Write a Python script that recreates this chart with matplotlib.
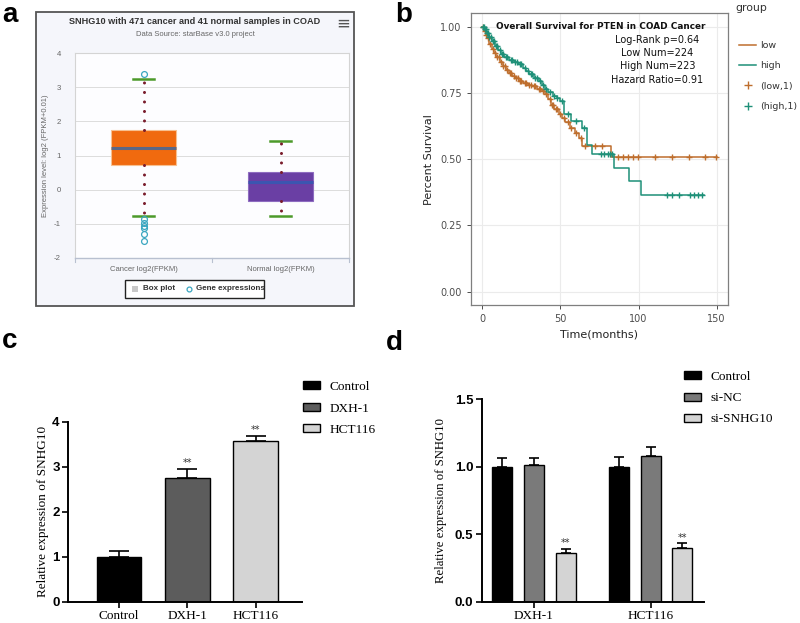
import numpy as np
import matplotlib
matplotlib.use("Agg")
import matplotlib.pyplot as plt
from matplotlib.patches import Rectangle
from matplotlib.lines import Line2D

W, H = 800, 623

# ---------------- Panel a data (box plot) ----------------
box_labels = ["Cancer log2(FPKM)", "Normal log2(FPKM)"]
box_q1 = [0.73, -0.32]
box_med = [1.22, 0.23]
box_q3 = [1.74, 0.53]
box_whislo = [-0.77, -0.78]
box_whishi = [3.23, 1.43]
cancer_fliers = [3.38, -0.86, -0.97, -1.05, -1.12, -1.30, -1.51]
normal_fliers = []
box_yticks = [-2, -1, 0, 1, 2, 3, 4]

# ---------------- Panel b data (Kaplan-Meier) ----------------
low_t = [0, 1, 2, 3, 4.5, 6, 7.5, 9, 11, 13, 15, 17, 19, 21, 23.5, 26, 29, 32, 35, 38,
         40, 42, 44, 46, 49, 51, 53, 56, 59, 62, 64, 82.5, 150]
low_s = [1.0, 0.985, 0.97, 0.955, 0.935, 0.915, 0.90, 0.885, 0.868, 0.852, 0.838, 0.826,
         0.815, 0.805, 0.795, 0.788, 0.780, 0.774, 0.766, 0.757, 0.745, 0.725, 0.705, 0.69,
         0.672, 0.655, 0.64, 0.618, 0.60, 0.578, 0.548, 0.507, 0.507]
high_t = [0, 1, 2.5, 4, 6, 8, 10, 12, 14, 17, 20, 23, 26, 28, 30, 33, 36, 38, 40, 42,
          45, 47.5, 50, 52, 57, 63.5, 67, 70.5, 84.6, 93.8, 101.3, 142]
high_s = [1.0, 0.99, 0.975, 0.96, 0.945, 0.928, 0.912, 0.898, 0.886, 0.875, 0.866, 0.857,
          0.845, 0.832, 0.82, 0.807, 0.795, 0.78, 0.765, 0.752, 0.74, 0.73, 0.72, 0.67,
          0.645, 0.617, 0.553, 0.521, 0.468, 0.417, 0.364, 0.364]
low_cens = [0.5, 1.5, 2.5, 3.5, 5, 6.5, 8, 9.5, 10.5, 12, 13.5, 14.5, 16, 17.5, 18.5, 20,
            21.5, 22.5, 24, 25, 27, 28, 30, 31, 33, 34, 36, 37, 39, 41, 43, 44.5, 45.5, 47,
            48, 50, 52, 55, 57, 60, 63, 66, 72, 76.7, 86.7, 89.9, 93.1, 96.3, 99.6, 110.3,
            121.6, 132.3, 142.3, 149.8]
high_cens = [0.3, 0.8, 1.5, 2, 3, 3.5, 4.5, 5.5, 6.5, 7.5, 8.5, 9.5, 11, 12.5, 13.5, 15,
             16, 18, 19, 21, 22, 24, 25, 27, 29, 31, 32, 34, 35, 37, 39, 41, 43, 46, 48, 51,
             55, 60, 65, 76, 78.2, 80.3, 81.9, 83.1, 118.4, 121.6, 125.8, 133.1, 135.5, 138,
             140.8]
km_xticks = [0, 50, 100, 150]
km_yticks = [0.0, 0.25, 0.50, 0.75, 1.00]
km_annot = ["Log-Rank p=0.64", "Low Num=224", "High Num=223", "Hazard Ratio=0.91"]

# ---------------- Panel c data ----------------
c_groups = ["Control", "DXH-1", "HCT116"]
c_vals = [1.0, 2.75, 3.57]
c_err = [0.12, 0.20, 0.12]
c_sig = ["", "**", "**"]

# ---------------- Panel d data ----------------
d_groups = ["DXH-1", "HCT116"]
d_series = ["Control", "si-NC", "si-SNHG10"]
d_control = [1.0, 1.0]
d_sinc = [1.01, 1.08]
d_sisnhg = [0.36, 0.40]
d_control_err = [0.062, 0.07]
d_sinc_err = [0.055, 0.065]
d_sisnhg_err = [0.03, 0.032]
d_sig = ["**", "**"]

fig = plt.figure(figsize=(W / 100, H / 100), dpi=100)


def rect(x0, y0, x1, y1):
    return [x0 / W, 1 - y1 / H, (x1 - x0) / W, (y1 - y0) / H]


def fx(x):
    return x / W


def fy(y):
    return 1 - y / H


SANS = "Liberation Sans"
SERIF = "Liberation Serif"

# ======================= Panel a =======================
frame = Rectangle((fx(36), fy(306)), (354 - 36) / W, (306 - 12) / H,
                  transform=fig.transFigure, facecolor="#f5f6fb",
                  edgecolor="#555555", lw=1.3, zorder=-5)
fig.patches.append(frame)

axA = fig.add_axes(rect(75, 53, 349, 258))
axA.set_zorder(3)
axA.set_facecolor("#fdfdff")
stats = []
fl = [cancer_fliers, normal_fliers]
for i in range(2):
    stats.append(dict(label=box_labels[i], q1=box_q1[i], med=box_med[i], q3=box_q3[i],
                      whislo=box_whislo[i], whishi=box_whishi[i], fliers=fl[i]))
bp = axA.bxp(stats, positions=[0.5, 1.5], widths=0.48, capwidths=0.15,
             patch_artist=True, showfliers=True,
             whiskerprops=dict(color="#7a1c2c", linestyle=(0, (0.01, 3.1)), lw=2.2,
                               dash_capstyle="round"),
             capprops=dict(color="#4c9a2a", lw=1.8),
             flierprops=dict(marker="o", mfc="none", mec="#3aa6c0", ms=4.2, mew=0.9),
             medianprops=dict(lw=2.2))
box_faces = ["#f06a0f", "#6a3fa4"]
box_edges = ["#f7c090", "#8e6cc0"]
med_cols = ["#5b6785", "#3c55b0"]
for i, b in enumerate(bp["boxes"]):
    b.set_facecolor(box_faces[i])
    b.set_edgecolor(box_edges[i])
    b.set_linewidth(0.8)
for i, m in enumerate(bp["medians"]):
    m.set_color(med_cols[i])
for w in bp["whiskers"]:
    w.set_zorder(3)
axA.set_xlim(0, 2)
axA.set_ylim(-2, 4)
axA.set_yticks(box_yticks)
axA.set_yticklabels([str(v) for v in box_yticks], fontsize=5.6, color="#666666", family=SANS)
axA.set_xticks([0.5, 1.5])
axA.set_xticklabels(box_labels, fontsize=5.5, color="#666666", family=SANS)
axA.tick_params(axis="y", length=0, pad=10)
axA.tick_params(axis="x", length=0, pad=6)
axA.grid(axis="y", color="#dcdcdc", lw=0.7)
axA.set_axisbelow(True)
for s in ["top", "right", "left"]:
    axA.spines[s].set_color("#d4d4d4")
    axA.spines[s].set_linewidth(0.8)
axA.spines["bottom"].set_color("#b8c0d0")
axA.spines["bottom"].set_linewidth(1)
axA.set_ylabel("Expression level: log2 (FPKM+0.01)", fontsize=5.5, color="#666666",
               family=SANS, labelpad=4)
for xv in [0, 1, 2]:
    axA.plot([xv, xv], [-2, -2.12], color="#b8c0d0", lw=0.8, clip_on=False)

fig.text(fx(195), fy(21), "SNHG10 with 471 cancer and 41 normal samples in COAD",
         ha="center", va="center", fontsize=6.6, fontweight="bold", color="#333333", family=SANS)
fig.text(fx(195), fy(35), "Data Source: starBase v3.0 project", ha="center", va="center",
         fontsize=5.5, color="#666666", family=SANS)
fig.text(fx(343), fy(24), "\u2261", ha="center", va="center", fontsize=12, color="#555555",
         family="DejaVu Sans")

leg_box = Rectangle((fx(125), fy(298)), (264 - 125) / W, (298 - 280) / H,
                    transform=fig.transFigure, facecolor="white", edgecolor="#222222", lw=1,
                    zorder=4)
fig.patches.append(leg_box)
fig.patches.append(Rectangle((fx(132), fy(292)), 6 / W, 6 / H, transform=fig.transFigure,
                             facecolor="#c8c8c8", edgecolor="none", zorder=5))
fig.text(fx(143), fy(289), "Box plot", ha="left", va="center", fontsize=5.8,
         fontweight="bold", color="#333333", family=SANS, zorder=5)
fig.add_artist(Line2D([fx(189)], [fy(289)], marker="o", mfc="none", mec="#3aa6c0", ms=3.5,
                      mew=0.9, transform=fig.transFigure, zorder=5))
fig.text(fx(196), fy(289), "Gene expressions", ha="left", va="center", fontsize=5.8,
         fontweight="bold", color="#333333", family=SANS, zorder=5)

fig.text(fx(2), fy(15), "a", ha="left", va="center", fontsize=20, fontweight="bold",
         family=SANS)

# ======================= Panel b =======================
low_col = "#BE6E2D"
high_col = "#1E9078"
axB = fig.add_axes(rect(470.7, 13.3, 728.3, 305))
axB.set_xlim(-7.5, 157.5)
axB.set_ylim(-0.05, 1.05)
axB.step(low_t, low_s, where="post", color=low_col, lw=1.1)
axB.step(high_t, high_s, where="post", color=high_col, lw=1.1)
lt = np.array(low_t)
ls = np.array(low_s)
ht = np.array(high_t)
hs = np.array(high_s)
lc = np.array(low_cens)
hc = np.array(high_cens)
axB.plot(lc, ls[np.searchsorted(lt, lc, side="right") - 1], "+", color=low_col, ms=5, mew=1)
axB.plot(hc, hs[np.searchsorted(ht, hc, side="right") - 1], "+", color=high_col, ms=5, mew=1)
axB.set_xticks(km_xticks)
axB.set_yticks(km_yticks)
axB.set_yticklabels(["0.00", "0.25", "0.50", "0.75", "1.00"])
axB.tick_params(labelsize=7, colors="#4d4d4d", length=3, width=0.7, color="#4d4d4d")
axB.grid(True, color="#ebebeb", lw=0.8)
axB.set_axisbelow(True)
for s in axB.spines.values():
    s.set_color("#7f7f7f")
    s.set_linewidth(0.9)
axB.set_xlabel("Time(months)", fontsize=8, color="#222222", labelpad=4)
axB.set_ylabel("Percent Survival", fontsize=8, color="#222222", labelpad=4)
axB.text(0.913, 0.955, "Overall Survival for PTEN in COAD Cancer", transform=axB.transAxes,
         ha="right", va="center", fontsize=6.4, fontweight="bold", color="#111111")
for k, txt in enumerate(km_annot):
    axB.text(0.725, 0.908 - k * 0.045, txt, transform=axB.transAxes, ha="center",
             va="center", fontsize=7, color="#111111")
hb = [Line2D([], [], color=low_col, lw=1.1), Line2D([], [], color=high_col, lw=1.1),
      Line2D([], [], color=low_col, marker="+", ls="none", ms=6, mew=1),
      Line2D([], [], color=high_col, marker="+", ls="none", ms=6, mew=1)]
fig.text(fx(735), fy(8), "group", ha="left", va="center", fontsize=7.8, color="#333333")
legB = fig.legend(hb, ["low", "high", "(low,1)", "(high,1)"],
                  loc="upper left", bbox_to_anchor=(fx(739), fy(41)), frameon=False,
                  fontsize=6.8, handlelength=1.8, labelspacing=1.2,
                  handletextpad=0.4, borderpad=0, borderaxespad=0)
for t in legB.get_texts():
    t.set_color("#333333")
fig.text(fx(395), fy(15), "b", ha="left", va="center", fontsize=20, fontweight="bold",
         family=SANS)

# ======================= Panel c =======================
axC = fig.add_axes(rect(68, 421.7, 301.7, 601.7))
xc = np.arange(len(c_groups))
colors_c = ["#000000", "#5c5c5c", "#d4d4d4"]
bars_c = axC.bar(xc, c_vals, width=0.65, color=colors_c, edgecolor="black", lw=1, zorder=2)
axC.errorbar(xc, c_vals, yerr=[np.zeros(len(c_vals)), c_err], fmt="none", ecolor="black",
             elinewidth=1.2, capsize=7, capthick=1.2, zorder=1)
for i in range(len(c_groups)):
    if c_sig[i]:
        axC.text(xc[i], c_vals[i] + c_err[i] + 0.02, c_sig[i], ha="center", va="bottom",
                 fontsize=7, color="#333333")
axC.set_xlim(-0.75, 2.676)
axC.set_ylim(0, 4)
axC.set_yticks([0, 1, 2, 3, 4])
axC.set_yticklabels(["0", "1", "2", "3", "4"], fontweight="bold", family=SANS, fontsize=9.5)
axC.set_xticks(xc)
axC.set_xticklabels(c_groups, family=SERIF, fontsize=9.5)
axC.spines["top"].set_visible(False)
axC.spines["right"].set_visible(False)
for s in ["left", "bottom"]:
    axC.spines[s].set_linewidth(1.4)
axC.tick_params(length=4, width=1.2, pad=2)
axC.set_ylabel("Relative expression of SNHG10", family=SERIF, fontsize=9.5, labelpad=2)
axC.legend(bars_c, c_groups, loc="upper left", bbox_to_anchor=(fx(303), fy(381)),
           bbox_transform=fig.transFigure, frameon=False, prop=dict(family=SERIF, size=9.5),
           handlelength=1.3, handleheight=0.55, labelspacing=0.72, handletextpad=0.7,
           borderpad=0, borderaxespad=0)
fig.text(fx(2), fy(341), "c", ha="left", va="center", fontsize=20, fontweight="bold",
         family=SANS)

# ======================= Panel d =======================
axD = fig.add_axes(rect(481.7, 399.3, 704, 601.7))
xd = np.arange(len(d_groups))
off = 0.2716
bw = 0.171
colors_d = ["#000000", "#7a7a7a", "#d4d4d4"]
vals_d = [d_control, d_sinc, d_sisnhg]
errs_d = [d_control_err, d_sinc_err, d_sisnhg_err]
bars_d = []
for j in range(3):
    pos = xd + (j - 1) * off
    b = axD.bar(pos, vals_d[j], width=bw, color=colors_d[j], edgecolor="black", lw=1,
                zorder=2)
    bars_d.append(b)
    axD.errorbar(pos, vals_d[j], yerr=[np.zeros(len(d_groups)), errs_d[j]], fmt="none",
                 ecolor="black", elinewidth=1.2, capsize=3.8, capthick=1.2, zorder=1)
for i in range(len(d_groups)):
    axD.text(xd[i] + off, d_sisnhg[i] + d_sisnhg_err[i] + 0.005, d_sig[i], ha="center",
             va="bottom", fontsize=7, color="#333333")
axD.set_xlim(-0.448, 1.457)
axD.set_ylim(0, 1.5)
axD.set_yticks([0.0, 0.5, 1.0, 1.5])
axD.set_yticklabels(["0.0", "0.5", "1.0", "1.5"], fontweight="bold", family=SANS, fontsize=9.5)
axD.set_xticks(xd)
axD.set_xticklabels(d_groups, family=SERIF, fontsize=9.5)
axD.spines["top"].set_visible(False)
axD.spines["right"].set_visible(False)
for s in ["left", "bottom"]:
    axD.spines[s].set_linewidth(1.4)
axD.tick_params(length=4, width=1.2, pad=2)
axD.set_ylabel("Relative expression of SNHG10", family=SERIF, fontsize=9.2, labelpad=6)
axD.legend(bars_d, d_series, loc="upper left", bbox_to_anchor=(fx(684), fy(371)),
           bbox_transform=fig.transFigure, frameon=False, prop=dict(family=SERIF, size=9.5),
           handlelength=1.3, handleheight=0.55, labelspacing=0.7, handletextpad=0.7,
           borderpad=0, borderaxespad=0)
fig.text(fx(386), fy(343), "d", ha="left", va="center", fontsize=20, fontweight="bold",
         family=SANS)

fig.savefig("out.png", dpi=100)
